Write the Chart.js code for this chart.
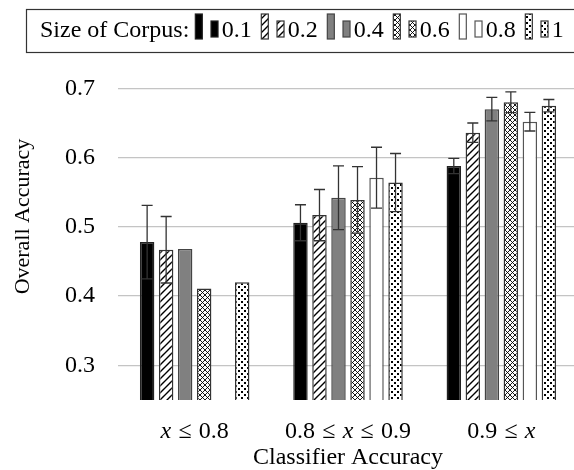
<!DOCTYPE html>
<html>
<head>
<meta charset="utf-8">
<style>
  html, body { margin: 0; padding: 0; background: #fff; overflow: hidden; }
  #wrap { position: relative; width: 578px; height: 470px; }
</style>
</head>
<body>
<div id="wrap"><canvas id="grafico"></canvas></div>
<script src="https://cdn.jsdelivr.net/npm/chart.js@4.4.0/dist/chart.umd.min.js"></script>
<script>
// dados
const categorias = ['x ≤ 0.8', '0.8 ≤ x ≤ 0.9', '0.9 ≤ x'];
const tamanhos = ['0.1', '0.2', '0.4', '0.6', '0.8', '1'];

const acc01 = [0.478, 0.506, 0.588];
const acc02 = [0.467, 0.517, 0.636];
const acc04 = [0.468, 0.542, 0.670];
const acc06 = [0.411, 0.539, 0.680];
const acc08 = [null, 0.571, 0.652];
const acc10 = [0.420, 0.564, 0.675];

const err01 = [0.053, 0.026, 0.011];
const err02 = [0.048, 0.037, 0.014];
const err04 = [0, 0.046, 0.017];
const err06 = [0, 0.048, 0.015];
const err08 = [null, 0.044, 0.0135];
const err10 = [0, 0.042, 0.009];

const yTicks = [0.3, 0.4, 0.5, 0.6, 0.7];

const FONTE = "'Liberation Serif', 'DejaVu Serif', serif";

function padrao(tipo) {
  const c = document.createElement('canvas');
  const s = tipo === 'hatch' ? 7 : (tipo === 'cross' ? 5 : 6);
  c.width = s; c.height = s;
  const g = c.getContext('2d');
  g.fillStyle = '#fff';
  g.fillRect(0, 0, s, s);
  g.strokeStyle = '#000';
  g.fillStyle = '#000';
  g.lineWidth = tipo === 'hatch' ? 1.4 : 0.9;
  if (tipo === 'hatch' || tipo === 'cross') {
    g.beginPath();
    g.moveTo(-1, s + 1); g.lineTo(s + 1, -1);
    g.moveTo(-1, 1); g.lineTo(1, -1);
    g.moveTo(s - 1, s + 1); g.lineTo(s + 1, s - 1);
    g.stroke();
  }
  if (tipo === 'cross') {
    g.beginPath();
    g.moveTo(-1, -1); g.lineTo(s + 1, s + 1);
    g.moveTo(s - 1, -1); g.lineTo(s + 1, 1);
    g.moveTo(-1, s - 1); g.lineTo(1, s + 1);
    g.stroke();
  }
  if (tipo === 'dots') {
    g.fillRect(1, 1, 2, 2);
    g.fillRect(4, 4, 2, 2);
  }
  return g.createPattern(c, 'repeat');
}

const preenchimentos = ['#000', padrao('hatch'), '#808080', padrao('cross'), '#fff', padrao('dots')];
const bordas = ['#222', '#333', '#444', '#333', '#555', '#333'];
const series = [acc01, acc02, acc04, acc06, acc08, acc10];
const erros = [err01, err02, err04, err06, err08, err10];

const datasets = tamanhos.map((t, i) => ({
  label: t,
  data: series[i],
  backgroundColor: preenchimentos[i],
  borderColor: bordas[i],
  borderWidth: 1.5,
  categoryPercentage: 0.744,
  barPercentage: 0.76
}));

// barras de erro
const barrasErro = {
  id: 'barrasErro',
  afterDatasetsDraw(chart) {
    const ctx = chart.ctx;
    const y = chart.scales.y;
    ctx.save();
    ctx.strokeStyle = '#333';
    ctx.lineWidth = 1.3;
    chart.data.datasets.forEach((ds, i) => {
      chart.getDatasetMeta(i).data.forEach((bar, j) => {
        const v = ds.data[j];
        const e = erros[i][j];
        if (v == null || !e) return;
        const yt = y.getPixelForValue(v + e);
        const yb = y.getPixelForValue(v - e);
        ctx.beginPath();
        ctx.moveTo(bar.x, yt); ctx.lineTo(bar.x, yb);
        ctx.moveTo(bar.x - 5.5, yt); ctx.lineTo(bar.x + 5.5, yt);
        ctx.moveTo(bar.x - 5.5, yb); ctx.lineTo(bar.x + 5.5, yb);
        ctx.stroke();
      });
    });
    ctx.restore();
  }
};

// rótulos do eixo x com x em itálico
const rotulosX = {
  id: 'rotulosX',
  afterDraw(chart) {
    const ctx = chart.ctx;
    const xs = chart.scales.x;
    const tam = 24;
    const gap = 0.3 * tam;
    ctx.save();
    ctx.fillStyle = '#000';
    ctx.textBaseline = 'middle';
    ctx.textAlign = 'left';
    categorias.forEach((txt, i) => {
      const partes = txt.split(' ');
      const fontes = partes.map(p => (p === 'x' ? 'italic ' : '') + tam + 'px ' + FONTE);
      const larguras = partes.map((p, k) => { ctx.font = fontes[k]; return ctx.measureText(p).width; });
      const total = larguras.reduce((a, b) => a + b, 0) + gap * (partes.length - 1);
      let x = xs.getPixelForTick(i) - total / 2;
      partes.forEach((p, k) => {
        ctx.font = fontes[k];
        ctx.fillText(p, x, 432);
        x += larguras[k] + gap;
      });
    });
    ctx.restore();
  }
};

// legenda em caixa no topo
const legendaCaixa = {
  id: 'legendaCaixa',
  afterDraw(chart) {
    const ctx = chart.ctx;
    ctx.save();
    ctx.fillStyle = '#fff';
    ctx.fillRect(26.5, 9.5, 600, 43);
    ctx.strokeStyle = '#333';
    ctx.lineWidth = 1.2;
    ctx.strokeRect(26.5, 9.5, 600, 43);
    ctx.font = '24px ' + FONTE;
    ctx.fillStyle = '#000';
    ctx.textBaseline = 'middle';
    ctx.fillText('Size of Corpus:', 40, 31);
    let x = 40 + ctx.measureText('Size of Corpus:').width + 6;
    tamanhos.forEach((t, i) => {
      ctx.fillStyle = preenchimentos[i];
      ctx.strokeStyle = bordas[i];
      ctx.lineWidth = 1.2;
      ctx.fillRect(x, 14, 7, 25);
      ctx.strokeRect(x, 14, 7, 25);
      ctx.fillRect(x + 15.7, 21, 7, 16);
      ctx.strokeRect(x + 15.7, 21, 7, 16);
      ctx.fillStyle = '#000';
      ctx.fillText(t, x + 26.5, 31);
      x += 26.5 + ctx.measureText(t).width + 9.5;
    });
    ctx.restore();
  }
};

new Chart(document.getElementById('grafico'), {
  type: 'bar',
  data: { labels: categorias, datasets: datasets },
  options: {
    responsive: true,
    maintainAspectRatio: false,
    animation: false,
    layout: { padding: { top: 33, left: 0, right: 0, bottom: 0 } },
    plugins: { legend: { display: false }, tooltip: { enabled: false } },
    scales: {
      x: {
        grid: { display: false },
        border: { display: false },
        ticks: { display: false },
        title: { display: true, text: 'Classifier Accuracy', color: '#000', font: { family: FONTE, size: 24, lineHeight: 1 }, padding: 0 },
        afterFit: s => { s.height = 70; s.paddingLeft = 0; s.paddingRight = 0; }
      },
      y: {
        min: 0.25,
        max: 0.78,
        afterBuildTicks: s => { s.ticks = yTicks.map(v => ({ value: v })); },
        afterFit: s => { s.width = 118; s.paddingTop = 0; s.paddingBottom = 0; },
        grid: { color: '#c4c4c4', lineWidth: 1.3, drawTicks: false },
        border: { display: false },
        ticks: { padding: 23, color: '#000', font: { family: FONTE, size: 24 }, callback: v => v.toFixed(1) },
        title: { display: true, text: 'Overall Accuracy', color: '#000', font: { family: FONTE, size: 22, lineHeight: 1 }, padding: { top: 12, bottom: 0 } }
      }
    }
  },
  plugins: [barrasErro, rotulosX, legendaCaixa]
});
</script>
</body>
</html>
